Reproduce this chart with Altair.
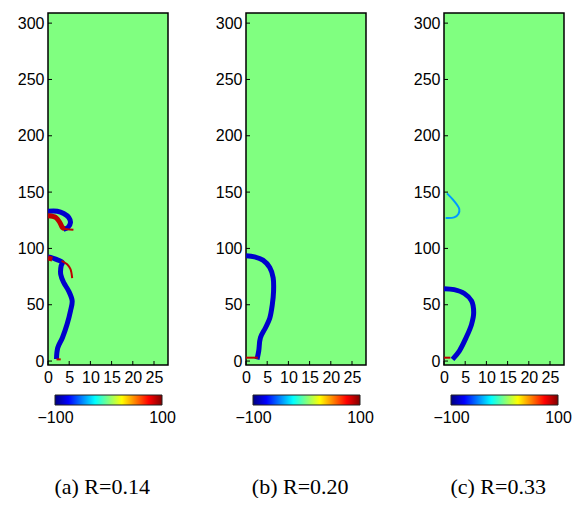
import altair as alt
import pandas as pd

# ---------------- data ----------------
X_TICKS = [0, 5, 10, 15, 20, 25]
Y_TICKS = [0, 50, 100, 150, 200, 250, 300]
CBAR_LABELS = [-100, 100]
CAPTIONS = ["(a) R=0.14", "(b) R=0.20", "(c) R=0.33"]

# panel (a)
A_MAIN_X = [2.0, 2.3, 3.4, 4.5, 5.3, 5.7, 4.9, 3.7, 3.0, 3.1, 3.4, 1.8, 0.6, 0.0]
A_MAIN_Y = [1.8, 11.8, 20.7, 32.6, 44.5, 53.4, 62.0, 69.7, 77.0, 84.5, 87.5, 90.5, 92.0, 92.5]
A_ARC_X = [0.0, 2.2, 3.7, 4.9, 5.3, 4.7, 3.7]
A_ARC_Y = [133.0, 133.0, 131.0, 127.5, 123.0, 118.6, 117.0]
A_RBLOB_X = [0.0, 1.8, 2.8, 3.4, 3.9]
A_RBLOB_Y = [129.0, 127.5, 123.0, 118.6, 117.5]
A_RDOT_X = [0.0, 1.0]
A_RDOT_Y = [91.5, 90.5]
A_RTAIL_X = [3.4, 4.5, 6.0]
A_RTAIL_Y = [117.5, 117.0, 116.5]
A_RTHIN_X = [3.2, 4.5, 5.3, 5.7]
A_RTHIN_Y = [89.0, 86.0, 81.6, 73.6]
A_RBOT_X = [2.0, 3.0]
A_RBOT_Y = [1.5, 1.5]

# panel (b)
B_MAIN_X = [2.6, 3.0, 3.4, 4.6, 5.6, 6.2, 6.5, 6.4, 5.6, 4.0, 2.0, 0.0]
B_MAIN_Y = [1.5, 8.9, 20.7, 29.6, 38.0, 50.0, 62.0, 74.0, 83.0, 89.6, 92.5, 93.4]
B_RBOT_X = [0.0, 2.8]
B_RBOT_Y = [3.0, 3.0]

# panel (c)
C_MAIN_X = [2.0, 3.6, 5.2, 6.5, 7.0, 6.5, 4.8, 2.4, 0.0]
C_MAIN_Y = [1.5, 8.9, 20.7, 32.6, 43.0, 53.4, 60.0, 63.4, 64.3]
C_CYAN_X = [0.7, 2.4, 3.6, 3.4, 2.4, 0.4]
C_CYAN_Y = [148.9, 142.0, 135.0, 130.5, 127.5, 127.0]
C_RBOT_X = [0.0, 1.5]
C_RBOT_Y = [3.0, 3.0]

# field values (colour scale -100..100)
V_BLUE = -85
V_RED = 88
V_CYAN = -45

THICK = [
    (0, "main", V_BLUE, A_MAIN_X, A_MAIN_Y),
    (0, "arc", V_BLUE, A_ARC_X, A_ARC_Y),
    (0, "rblob", V_RED, A_RBLOB_X, A_RBLOB_Y),
    (0, "rdot", V_RED, A_RDOT_X, A_RDOT_Y),
    (1, "main", V_BLUE, B_MAIN_X, B_MAIN_Y),
    (2, "main", V_BLUE, C_MAIN_X, C_MAIN_Y),
]
THIN = [
    (0, "rtail", V_RED, A_RTAIL_X, A_RTAIL_Y),
    (0, "rthin", V_RED, A_RTHIN_X, A_RTHIN_Y),
    (0, "rbot", V_RED, A_RBOT_X, A_RBOT_Y),
    (1, "rbot", V_RED, B_RBOT_X, B_RBOT_Y),
    (2, "cyan", V_CYAN, C_CYAN_X, C_CYAN_Y),
    (2, "rbot", V_RED, C_RBOT_X, C_RBOT_Y),
]


def to_df(items):
    rows = []
    for p, name, v, xs, ys in items:
        for k, (xx, yy) in enumerate(zip(xs, ys)):
            rows.append({"panel": p, "seg": name, "v": v, "ord": k, "x": xx, "y": yy})
    return pd.DataFrame(rows)


df_thick = to_df(THICK)
df_thin = to_df(THIN)
df_cbar = pd.DataFrame({"lo": [CBAR_LABELS[0]], "hi": [CBAR_LABELS[1]]})

JET_DOMAIN = [-100, -75, -50, -25, 0, 25, 50, 75, 100]
JET_RANGE = ["#000080", "#0000ff", "#0080ff", "#00ffff", "#80ff80",
             "#ffff00", "#ff8000", "#ff0000", "#800000"]
JET_GRADIENT = alt.LinearGradient(
    gradient="linear", x1=0, x2=1, y1=0, y2=0,
    stops=[alt.GradientStop(offset=(d + 100) / 200, color=c)
           for d, c in zip(JET_DOMAIN, JET_RANGE)])

W, H = 120, 352
SANS = "Liberation Sans"
FS = 16


def panel(i):
    x = alt.X("x:Q", scale=alt.Scale(domain=[0, 28.3], nice=False, zero=False),
              axis=alt.Axis(values=X_TICKS, title=None, grid=False, domain=False, ticks=False,
                            labelFlush=False, labelOverlap=False, labelPadding=4,
                            labelFontSize=FS, labelFont=SANS, labelColor="black"))
    y = alt.Y("y:Q", scale=alt.Scale(domain=[-3.5, 309], nice=False, zero=False),
              axis=alt.Axis(values=Y_TICKS, title=None, grid=False, domain=False, ticks=False,
                            labelPadding=4, labelFontSize=FS, labelFont=SANS,
                            labelColor="black"))
    color = alt.Color("v:Q", scale=alt.Scale(domain=JET_DOMAIN, range=JET_RANGE,
                                             interpolate="rgb"), legend=None)
    thick = alt.Chart(df_thick[df_thick.panel == i]).mark_line(
        strokeWidth=5, clip=True, interpolate="catmull-rom").encode(
        x=x, y=y, color=color, detail="seg:N", order="ord:Q")
    thin = alt.Chart(df_thin[df_thin.panel == i]).mark_line(
        strokeWidth=2, clip=True, interpolate="catmull-rom").encode(
        x=x, y=y, color=color, detail="seg:N", order="ord:Q")
    yt = alt.Chart(pd.DataFrame({"y": Y_TICKS})).mark_rule(color="black", strokeWidth=1).encode(
        y=y, x=alt.value(0), x2=alt.value(4))
    xt = alt.Chart(pd.DataFrame({"x": X_TICKS})).mark_rule(color="black", strokeWidth=1).encode(
        x=x, y=alt.value(H), y2=alt.value(H - 4))
    field = alt.layer(thick, thin, yt, xt).properties(
        width=W, height=H,
        view=alt.ViewBackground(fill="#80ff80", stroke="black", strokeWidth=1.5))

    cbar = alt.Chart(df_cbar).mark_rect(
        fill=JET_GRADIENT, stroke="#222222", strokeWidth=1).encode(
        x=alt.X("lo:Q", scale=alt.Scale(domain=[-113.1, 111.2], nice=False, zero=False),
                axis=alt.Axis(values=CBAR_LABELS, title=None, grid=False, domain=False,
                              ticks=False, labelFlush=False, labelPadding=4,
                              labelFontSize=FS, labelFont=SANS, labelColor="black")),
        x2="hi:Q", y=alt.value(0), y2=alt.value(10)).properties(
        width=W, height=10, view=alt.ViewBackground(stroke="transparent", fill="white"))

    return alt.vconcat(field, cbar, spacing=30, bounds="flush").resolve_scale(
        x="independent", y="independent").properties(
        title=alt.TitleParams(CAPTIONS[i], orient="bottom", anchor="middle", dx=6,
                              font="Liberation Serif", fontSize=22, fontWeight="normal",
                              color="black", offset=51))


chart = alt.hconcat(panel(0), panel(1), panel(2), spacing=38).resolve_scale(
    x="independent", y="independent", color="independent").properties(
    padding={"left": 16, "top": 12, "right": 0, "bottom": 0}, background="white")

chart.save("out.html", embed_options={"renderer": "svg", "actions": False})
